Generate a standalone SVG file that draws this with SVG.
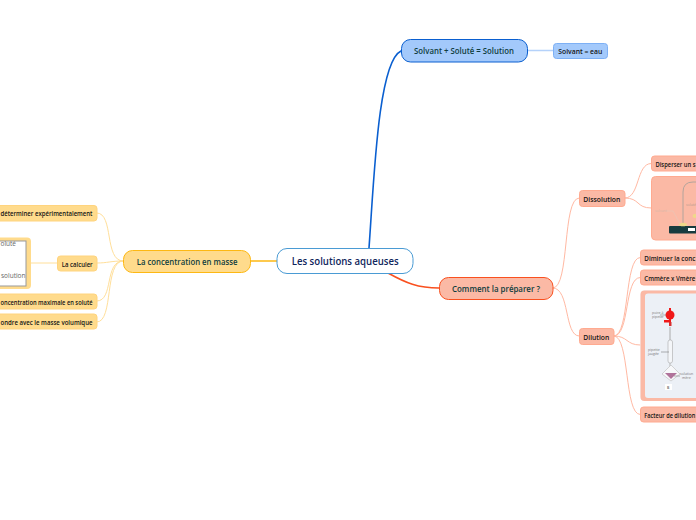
<svg xmlns="http://www.w3.org/2000/svg" width="696" height="520" viewBox="0 0 696 520">
<style>
text{font-family:"Open Sans","Noto Sans","DejaVu Sans",sans-serif}
.m{font-size:9px;font-weight:600;fill:#0f3d3e}
.s{font-size:7.800px;font-weight:600;fill:#141414}
.c{fill:none;stroke-linecap:round}
.y{stroke:#ffdf9a;stroke-width:1}
.r{stroke:#ffb9a3;stroke-width:1}
.t{font-size:3.500px;fill:#777}
.nr{fill:#fbb9a5;stroke:#ffaa90;stroke-width:1}
.ny{fill:#ffdb8c;stroke:#ffd47e;stroke-width:1}
</style>
<rect width="696" height="520" fill="#fff"/>
<g id="connectors">
<path class="c" d="M369 248C374 180 378 62 401 51" stroke="#0a5fd0" stroke-width="1.600"/>
<path class="c" d="M388 273C406 283 418 288 439 288" stroke="#f9501f" stroke-width="1.600"/>
<path class="c" d="M277 261H250" stroke="#fdb813" stroke-width="1.600"/>
<path class="c" d="M527 50.500H553" stroke="#b5d2fa" stroke-width="1.300"/>
<path class="c r" d="M553 288C570 288 562 198 579 198"/>
<path class="c r" d="M553 288C570 288 564 336 579 336"/>
<path class="c r" d="M625 198C640 198 636 163.500 651 163.500"/>
<path class="c r" d="M625 198C640 198 636 208 651 208"/>
<path class="c r" d="M614 336C630 336 624 257.500 640 257.500"/>
<path class="c r" d="M614 336C630 336 624 277.500 640 277.500"/>
<path class="c r" d="M614 336C628 336 626 345 640 345"/>
<path class="c r" d="M614 336C630 336 624 414.500 640 414.500"/>
<path class="c y" d="M123 261C104 261 114 213 97 213"/>
<path class="c y" d="M123 261C110 261 108 263 97 263"/>
<path class="c y" d="M123 261C104 261 114 301 97 301"/>
<path class="c y" d="M123 261C104 261 114 322 97 322"/>
<path class="c y" d="M57 263H31"/>
</g>
<g id="root"><rect x="277" y="248.500" width="136" height="25" rx="10" fill="#fff" stroke="#4a9bd4"/><text x="291.700" y="265" font-weight="600" fill="#10265c" style="font-size:10px" textLength="107" lengthAdjust="spacingAndGlyphs">Les solutions aqueuses</text></g>
<g id="n-solvant"><rect x="401.500" y="39.500" width="126" height="22.500" rx="9" fill="#a3c9fb" stroke="#0a5fd0"/><text class="m" x="414" y="54" textLength="100" lengthAdjust="spacingAndGlyphs">Solvant + Soluté = Solution</text></g>
<g id="n-eau"><rect x="553.500" y="43.500" width="54" height="15" rx="3" fill="#a3c9fb" stroke="#7db0f5"/><text class="s" x="558.300" y="53.500" textLength="44" lengthAdjust="spacingAndGlyphs">Solvant = eau</text></g>
<g id="n-comment"><rect x="439.500" y="277.500" width="113.500" height="22" rx="9" fill="#fbb9a5" stroke="#f9501f"/><text class="m" x="452" y="292" textLength="88" lengthAdjust="spacingAndGlyphs">Comment la préparer ?</text></g>
<g id="n-concentration"><rect x="123.500" y="250.500" width="127" height="22" rx="9" fill="#ffdb8c" stroke="#fdb813"/><text class="m" x="136.700" y="265" textLength="100.800" lengthAdjust="spacingAndGlyphs">La concentration en masse</text></g>
<g id="n-dissolution"><rect class="nr" x="579.500" y="190.500" width="45.500" height="16" rx="3"/><text class="s" x="583.300" y="201.500" textLength="37" lengthAdjust="spacingAndGlyphs">Dissolution</text></g>
<g id="n-disperser"><rect class="nr" x="651.500" y="156" width="60" height="15" rx="3"/><text class="s" x="655.500" y="166.500" textLength="40" lengthAdjust="spacingAndGlyphs">Disperser un s</text></g>
<g id="n-image1"><rect x="651.500" y="176.500" width="60" height="63.500" rx="4" fill="#fbb9a5" stroke="#ffaa90"/>
<path d="M683 224V192Q683 182 693 182H696" fill="none" stroke="#b3a49c" stroke-width="1"/>
<rect x="669" y="226" width="30" height="7.500" rx="1" fill="#173b3f"/><rect x="688" y="228" width="7" height="3" fill="#fff"/>
<ellipse cx="683" cy="224.500" rx="4" ry="1.800" fill="#efd88a"/><ellipse cx="695" cy="216" rx="2.500" ry="2" fill="#efd88a"/>
<path d="M666 211H673L680 224" fill="none" stroke="#e6c7b8" stroke-width=".6"/>
<text class="t" x="655" y="212" style="fill:#d8b8a8">solvant</text><text class="t" x="686" y="206" style="fill:#b89c90">soluté</text></g>
<g id="n-dilution"><rect class="nr" x="579.500" y="328.500" width="34.500" height="16" rx="3"/><text class="s" x="583.300" y="339.500" textLength="26" lengthAdjust="spacingAndGlyphs">Dilution</text></g>
<g id="n-diminuer"><rect class="nr" x="640.500" y="250" width="60" height="15" rx="3"/><text class="s" x="644.300" y="260.500" textLength="51" lengthAdjust="spacingAndGlyphs">Diminuer la conc</text></g>
<g id="n-cmere"><rect class="nr" x="640.500" y="270" width="60" height="15" rx="3"/><text class="s" x="644.300" y="280.500" textLength="51" lengthAdjust="spacingAndGlyphs">Cmmère x Vmère</text></g>
<g id="n-image2"><rect x="640.500" y="290.500" width="60" height="110.500" rx="4" fill="#ecf0f6"/>
<path d="M640.500 294.500a4 4 0 0 1 4-4H700V293.500H648a3 3 0 0 0-3 3V395a3 3 0 0 0 3 3H700V401H644.500a4 4 0 0 1-4-4Z" fill="#fbb9a5"/>
<circle cx="670" cy="315" r="4.500" fill="#f01818"/><rect x="669" y="308" width="2" height="14" fill="#f01818"/><rect x="664" y="320" width="7" height="2.500" fill="#f01818"/><rect x="669" y="322" width="2.500" height="4" fill="#d83030"/>
<path d="M670 327V340" stroke="#aaa" stroke-width="1"/>
<rect x="668" y="340" width="4.500" height="23" rx="2" fill="#f4f6f9" stroke="#aaa" stroke-width=".6"/>
<path d="M670 363V370" stroke="#aaa" stroke-width=".8"/>
<path d="M671 365L680 374L671 381L662 374Z" fill="#f7f8fa" stroke="#bbb" stroke-width=".6"/>
<path d="M665 373H677L671 379Z" fill="#b0739a"/>
<path d="M660 315H666M661 352H669M674 376H680" stroke="#666" stroke-width=".5"/>
<text class="t" x="652" y="314">poire à</text><text class="t" x="652" y="318">pipeter</text>
<text class="t" x="648" y="351">pipette</text><text class="t" x="648" y="355">jaugée</text>
<text class="t" x="680" y="375">solution</text><text class="t" x="682" y="379">mère</text>
<rect x="665" y="384" width="7" height="6" fill="#fff"/><text class="t" x="667" y="388.500" style="fill:#222">B</text></g>
<g id="n-facteur"><rect class="nr" x="640.500" y="407" width="60" height="15" rx="3"/><text class="s" x="644.300" y="417.500" textLength="51" lengthAdjust="spacingAndGlyphs">Facteur de dilution</text></g>
<g id="n-determiner"><rect class="ny" x="-10" y="205.500" width="107" height="15.500" rx="3"/><text class="s" x="0.500" y="216" textLength="92" lengthAdjust="spacingAndGlyphs">déterminer expérimentalement</text></g>
<g id="n-calculer"><rect class="ny" x="57.500" y="256" width="39.500" height="15" rx="3"/><text class="s" x="61.700" y="266.500" textLength="31" lengthAdjust="spacingAndGlyphs">La calculer</text></g>
<g id="n-image3"><rect x="-10" y="237.500" width="41" height="51.500" rx="4" fill="#ffdb8c"/><rect x="-10" y="241" width="36" height="45" fill="#fff" stroke="#999" stroke-width="1"/>
<text x="0.500" y="246" textLength="15.500" lengthAdjust="spacingAndGlyphs" style="font-size:7px;fill:#666">oluté</text><text x="1" y="278" textLength="24.500" lengthAdjust="spacingAndGlyphs" style="font-size:7px;fill:#666">solution</text></g>
<g id="n-maximale"><rect class="ny" x="-10" y="294" width="107" height="15" rx="3"/><text class="s" x="0.500" y="304.500" textLength="92" lengthAdjust="spacingAndGlyphs">oncentration maximale en soluté</text></g>
<g id="n-volumique"><rect class="ny" x="-10" y="314" width="107" height="15" rx="3"/><text class="s" x="0.500" y="324.500" textLength="92" lengthAdjust="spacingAndGlyphs">ondre avec le masse volumique</text></g>
</svg>
